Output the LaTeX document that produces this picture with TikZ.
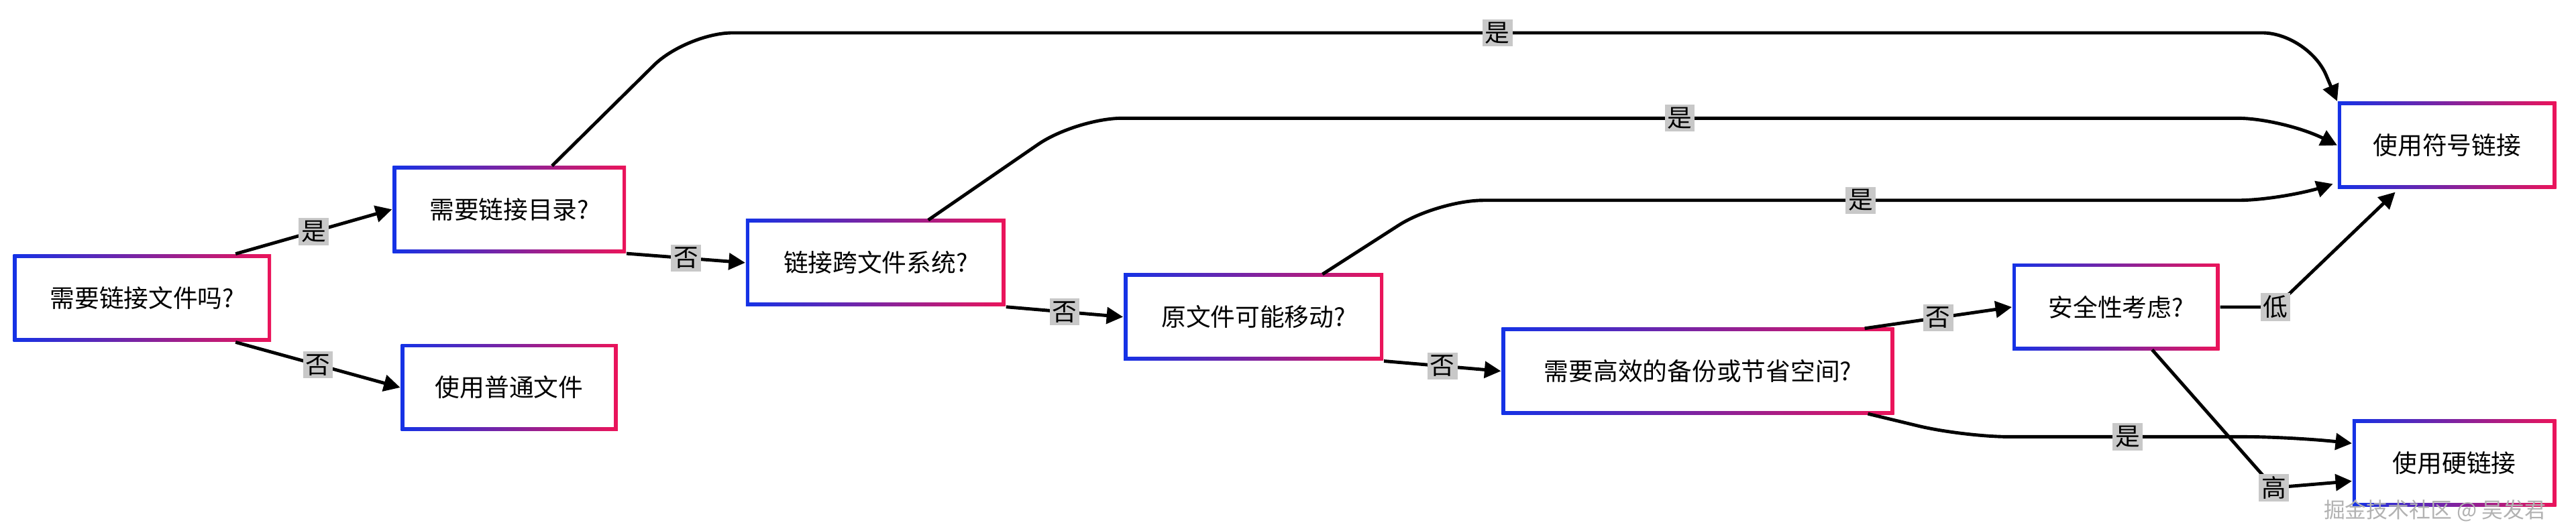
\documentclass[tikz,border=0pt]{standalone}
\usepackage{fontspec}
\setmainfont{Noto Sans CJK SC}
\usetikzlibrary{arrows.meta}
\definecolor{bl}{RGB}{20,50,230}
\definecolor{pk}{RGB}{235,20,90}
\definecolor{lg}{RGB}{200,200,200}
\begin{document}
\begin{tikzpicture}[x=0.5pt,y=-0.5pt,
 box/.style={rectangle,inner sep=0pt,minimum height=26.5pt,left color=bl,right color=pk,draw=none,font=\fontsize{7.5}{9}\selectfont,
   path picture={\fill[white] ([shift={(1.1pt,1.1pt)}]path picture bounding box.south west) rectangle ([shift={(-1.1pt,-1.1pt)}]path picture bounding box.north east);}},
 ed/.style={line width=1pt,-{Triangle[length=5pt,width=5pt]},rounded corners=14pt},
 lb/.style={fill=lg,sharp corners,inner sep=0.8pt,font=\fontsize{7.5}{9}\selectfont}]
\useasboundingbox (0,0) rectangle (1568,322);
\fill[white] (0,0) rectangle (1568,322);
\node[box,minimum width=78.5pt] (A) at (86.5,181.5) {需要链接文件吗?};
\node[box,minimum width=71pt] (B) at (310,127.5) {需要链接目录?};
\node[box,minimum width=66pt] (C) at (310,236) {使用普通文件};
\node[box,minimum width=79pt] (D) at (533,160) {链接跨文件系统?};
\node[box,minimum width=79pt] (E) at (763,193) {原文件可能移动?};
\node[box,minimum width=119.5pt] (F) at (1033.5,226) {需要高效的备份或节省空间?};
\node[box,minimum width=63pt] (G) at (1288,187) {安全性考虑?};
\node[box,minimum width=66.5pt] (H) at (1489.5,88.5) {使用符号链接};
\node[box,minimum width=62pt] (I) at (1494,282) {使用硬链接};
\coordinate (h1) at (1420,112);
\draw[ed] (A.north east) ++(-22,0) -- node[lb]{是} (B.west);
\draw[ed] (A.south east) ++(-22,0) -- node[lb]{否} (C.west);
\draw[ed] (336,101) -- (418,20) -- node[lb]{是} (1405,20) [rounded corners=6pt] -- (H.north west);
\draw[ed] (B.south east) -- node[lb]{否} (D.west);
\draw[ed] (565,134) -- (655,72) -- node[lb]{是} (1390,72) [rounded corners=6pt] -- (H.west);
\draw[ed] (D.south east) -- node[lb]{否} (E.west);
\draw[ed] (805,167) -- (875,122) -- node[lb]{是} (1390,122) [rounded corners=6pt] -- (h1);
\draw[ed] (E.south east) -- node[lb]{否} (F.west);
\draw[ed] (1135,200) -- node[lb]{否} (G.west);
\draw[ed] (1137,252) -- (1195,266) -- node[lb]{是} (1395,266) [rounded corners=6pt] -- ([yshift=6pt]I.west);
\draw[ed,rounded corners=4pt] (G.east) -- (1385,187) node[lb,pos=1]{低} -- (1458,117);
\draw[ed,rounded corners=4pt] (1310,213) -- (1384,297) node[lb,pos=1]{高} -- ([yshift=-5.5pt]I.west);
\node[text=gray!60,font=\fontsize{6.5}{8}\selectfont,anchor=south east,inner sep=1pt] (wm) at (1552,320) {掘金技术社区 @ 吴发君};
\end{tikzpicture}
\end{document}
